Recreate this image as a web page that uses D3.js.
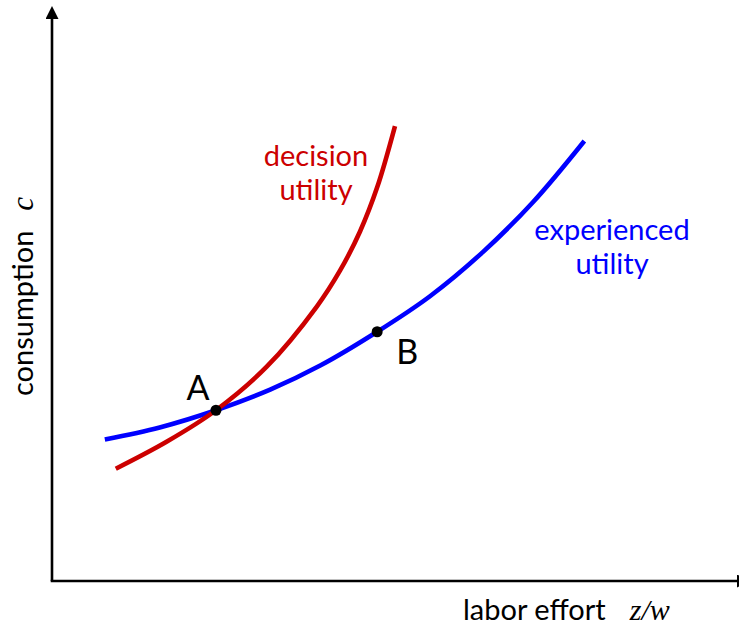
<!DOCTYPE html>
<html>
<head>
<meta charset="utf-8">
<script src="https://cdn.jsdelivr.net/npm/d3@7"></script>
<style>
  body { margin: 0; background: #fff; }
  svg { display: block; }
  text { font-family: Lato, "Open Sans", sans-serif; }
  .math { font-family: "Liberation Serif", "DejaVu Serif", serif; font-style: italic; }
</style>
</head>
<body>
<svg id="chart"></svg>
<script>
// curves, in axis units (0..10 on both axes)
const decisionX = [0.93, 1.67, 2.39, 3.13, 3.86, 4.20, 4.49, 4.74, 5.00];
const decisionY = [1.96, 2.43, 2.98, 3.74, 4.79, 5.42, 6.10, 6.87, 7.94];
const experiencedX = [0.77, 1.57, 2.39, 3.18, 3.91, 4.74, 5.51, 6.28, 7.01, 7.76];
const experiencedY = [2.47, 2.68, 2.98, 3.34, 3.76, 4.35, 4.97, 5.74, 6.61, 7.68];
const pointNames = ['A', 'B'];
const pointX = [2.39, 4.74];
const pointY = [2.98, 4.35];

const W = 739, H = 630;
const RED = '#cc0000', BLUE = '#0000ff', FS = 29;

const svg = d3.select('#chart').attr('width', W).attr('height', H);

const x = d3.scaleLinear().domain([0, 10]).range([52, 738]);
const y = d3.scaleLinear().domain([0, 10]).range([581, 8]);

// arrow heads
const defs = svg.append('defs');
defs.append('marker').attr('id', 'arr')
  .attr('viewBox', '0 0 10 10').attr('refX', 0).attr('refY', 5)
  .attr('markerWidth', 5).attr('markerHeight', 5).attr('markerUnits', 'strokeWidth')
  .attr('orient', 'auto')
  .append('path').attr('d', 'M0,0 L10,5 L0,10 Z').attr('fill', 'black');

// axes: only the lines, no ticks
const gx = svg.append('g').attr('transform', `translate(0,${y(0)})`)
  .call(d3.axisBottom(x).ticks(0).tickSizeOuter(0));
const gy = svg.append('g').attr('transform', `translate(${x(0)},0)`)
  .call(d3.axisLeft(y).ticks(0).tickSizeOuter(0));
[gx, gy].forEach(g => g.select('.domain')
  .attr('stroke', 'black').attr('stroke-width', 2.6).attr('marker-end', 'url(#arr)'));
gx.select('.domain').attr('d', `M${x(0) - 1.3},0H${x(10) - 1}`);
gy.select('.domain').attr('d', `M0,${y(0)}V${y(10) + 11}`);

const line = d3.line().x(d => x(d[0])).y(d => y(d[1])).curve(d3.curveCatmullRom.alpha(0.5));

svg.append('path')
  .datum(d3.zip(experiencedX, experiencedY))
  .attr('d', line).attr('fill', 'none')
  .attr('stroke', BLUE).attr('stroke-width', 4.6);

svg.append('path')
  .datum(d3.zip(decisionX, decisionY))
  .attr('d', line).attr('fill', 'none')
  .attr('stroke', RED).attr('stroke-width', 4.6);

// points A, B
const pts = pointNames.map((n, i) => ({ name: n, x: pointX[i], y: pointY[i] }));
svg.selectAll('circle.pt').data(pts).join('circle')
  .attr('class', 'pt')
  .attr('cx', d => x(d.x)).attr('cy', d => y(d.y)).attr('r', 5.5)
  .attr('fill', 'black');

svg.selectAll('text.pt').data(pts).join('text')
  .attr('class', 'pt')
  .attr('x', (d, i) => x(d.x) + (i === 0 ? -18 : 30))
  .attr('y', (d, i) => y(d.y) + (i === 0 ? -10 : 32))
  .attr('text-anchor', 'middle')
  .attr('font-size', 34)
  .attr('fill', 'black')
  .text(d => d.name);

// curve labels
function label(lines, cx, y0, color) {
  const t = svg.append('text').attr('text-anchor', 'middle')
    .attr('font-size', FS).attr('fill', color);
  lines.forEach((s, i) => {
    t.append('tspan').attr('x', cx).attr('y', y0 + i * 34).text(s);
  });
}
label(['decision', 'utility'], 316, 166, RED);
label(['experienced', 'utility'], 612, 240, BLUE);

// axis titles
const xt = svg.append('text').attr('x', 463).attr('y', 620)
  .attr('font-size', FS).attr('fill', 'black');
xt.append('tspan').text('labor effort');
xt.append('tspan').attr('class', 'math').attr('font-size', 30).attr('dx', 24).text('z/w');

const yt = svg.append('text')
  .attr('transform', 'translate(33,396) rotate(-90)')
  .attr('font-size', FS).attr('fill', 'black');
yt.append('tspan').text('consumption');
yt.append('tspan').attr('class', 'math').attr('font-size', 31).attr('dx', 20).text('c');
</script>
</body>
</html>
